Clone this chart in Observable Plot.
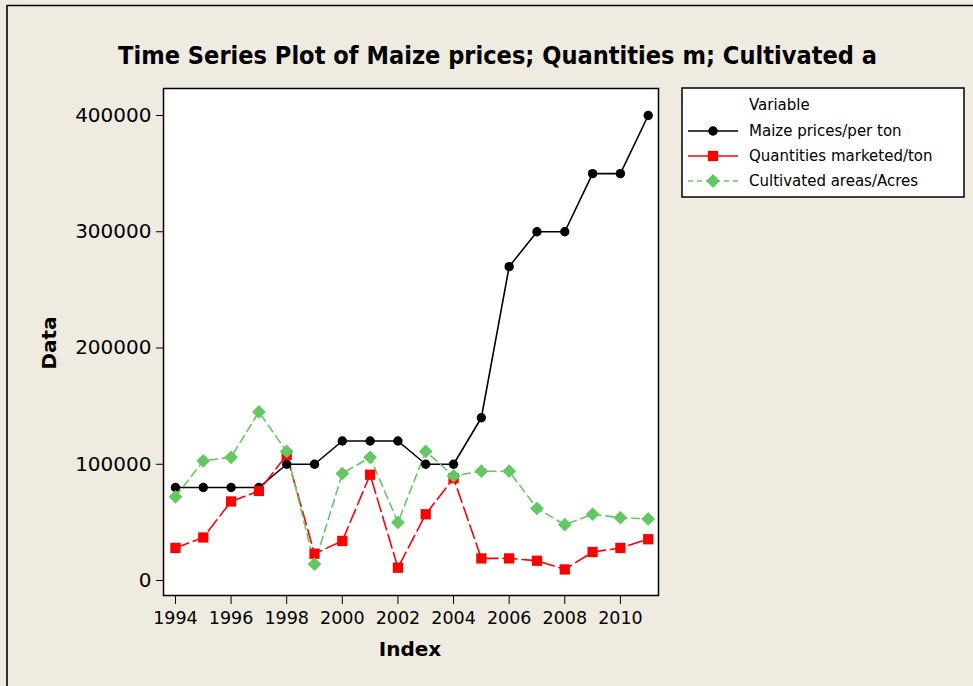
<!DOCTYPE html>
<html>
<head>
<meta charset="utf-8">
<script src="https://cdn.jsdelivr.net/npm/d3@7"></script>
<script src="https://cdn.jsdelivr.net/npm/@observablehq/plot@0.6"></script>
<style>
  html, body { margin: 0; padding: 0; background: #EFEBE1; }
  #wrap { position: relative; width: 973px; height: 686px; background: #EFEBE1; overflow: hidden; font-family: "DejaVu Sans", sans-serif; }
  #wrap > svg, #wrap > .ov { position: absolute; left: 0; top: 0; }
</style>
</head>
<body>
<div id="wrap"></div>
<script>
const years = [1994,1995,1996,1997,1998,1999,2000,2001,2002,2003,2004,2005,2006,2007,2008,2009,2010,2011];
const prices = [80000,80000,80000,80000,100000,100000,120000,120000,120000,100000,100000,140000,270000,300000,300000,350000,350000,400000];
const quantities = [28000,37000,68000,77000,108000,23000,34000,91000,11000,57000,88000,19000,19000,17000,9500,24500,28000,35500];
const areas = [72000,103000,106000,145000,111000,14000,92000,106000,50000,111000,90000,94000,94000,62000,48000,57000,54000,53000];
const seriesNames = ["Maize prices/per ton","Quantities marketed/ton","Cultivated areas/Acres"];
const xTicks = [1994,1996,1998,2000,2002,2004,2006,2008,2010];
const yTicks = [0,100000,200000,300000,400000];
const titleText = "Time Series Plot of Maize prices; Quantities m; Cultivated a";

const colors = ["#000000", "#FF0000", "#63C863"];
const dashes = [null, "14,5", "8,5"];
const symbols = ["circle", "square", "diamond2"];
const radii = [4.7, 5.8, 6.2];
const values = [prices, quantities, areas];

const rows = values.map(v => years.map((yr, i) => ({year: yr, value: v[i]})));

const marks = [Plot.frame({fill: "white"})];
rows.forEach((r, k) => {
  marks.push(Plot.line(r, {x: "year", y: "value", stroke: colors[k], strokeWidth: 1.6, strokeDasharray: dashes[k] || undefined}));
});
rows.forEach((r, k) => {
  marks.push(Plot.dot(r, {x: "year", y: "value", fill: colors[k], symbol: () => symbols[k], r: radii[k], stroke: "none"}));
});
marks.push(Plot.frame({stroke: "black", strokeWidth: 1.5}));
marks.push(Plot.axisY({ticks: yTicks, tickFormat: d => String(d), tickSize: 7, tickPadding: 5, fontSize: 20, label: null, color: "black"}));
marks.push(Plot.axisX({ticks: xTicks, tickFormat: d => String(d), tickSize: 9, tickPadding: 7, fontSize: 17.5, label: null, color: "black"}));

const chart = Plot.plot({
  width: 973, height: 686,
  marginLeft: 163, marginRight: 315, marginTop: 88, marginBottom: 91,
  style: {background: "transparent", fontFamily: "DejaVu Sans, sans-serif", color: "black", overflow: "visible"},
  x: {domain: [1993.57, 2011.37]},
  y: {domain: [-12903, 423226]},
  symbol: {type: "identity"},
  marks
});
chart.querySelectorAll("text").forEach(t => t.setAttribute("fill", "black"));
const wrap = document.getElementById("wrap");
wrap.appendChild(chart);

// overlay: border, title, axis labels, legend
const ov = d3.select(wrap).append("svg").attr("class", "ov").attr("width", 973).attr("height", 686)
  .style("font-family", "DejaVu Sans, sans-serif");
ov.append("line").attr("x1", 7).attr("x2", 7).attr("y1", 5).attr("y2", 686).attr("stroke", "black").attr("stroke-width", 1.6);
ov.append("line").attr("x1", 7).attr("x2", 973).attr("y1", 5.5).attr("y2", 5.5).attr("stroke", "black").attr("stroke-width", 1.6);
ov.append("text").attr("x", 497.5).attr("y", 64).attr("text-anchor", "middle")
  .attr("font-size", 25).attr("font-weight", "bold").attr("textLength", 759).attr("lengthAdjust", "spacingAndGlyphs")
  .text(titleText);
ov.append("text").attr("transform", "translate(56,343) rotate(-90)").attr("text-anchor", "middle")
  .attr("font-size", 20).attr("font-weight", "bold").text("Data");
ov.append("text").attr("x", 410).attr("y", 656).attr("text-anchor", "middle")
  .attr("font-size", 20).attr("font-weight", "bold").text("Index");

const lg = ov.append("g");
lg.append("rect").attr("x", 682).attr("y", 88).attr("width", 282).attr("height", 109)
  .attr("fill", "white").attr("stroke", "black").attr("stroke-width", 1.5);
lg.append("text").attr("x", 749).attr("y", 110).attr("font-size", 15).text("Variable");
const ly = [131, 156, 181];
seriesNames.forEach((name, k) => {
  lg.append("line").attr("x1", 688).attr("x2", 738).attr("y1", ly[k]).attr("y2", ly[k])
    .attr("stroke", colors[k]).attr("stroke-width", 1.6).attr("stroke-dasharray", k === 2 ? "5,4" : null);
  const sym = {circle: d3.symbolCircle, square: d3.symbolSquare, diamond2: d3.symbolDiamond2}[symbols[k]];
  lg.append("path").attr("transform", `translate(713,${ly[k]})`)
    .attr("d", d3.symbol(sym, Math.PI * radii[k] * radii[k])()).attr("fill", colors[k]);
  lg.append("text").attr("x", 749).attr("y", ly[k] + 5).attr("font-size", 15).text(name);
});
</script>
</body>
</html>
